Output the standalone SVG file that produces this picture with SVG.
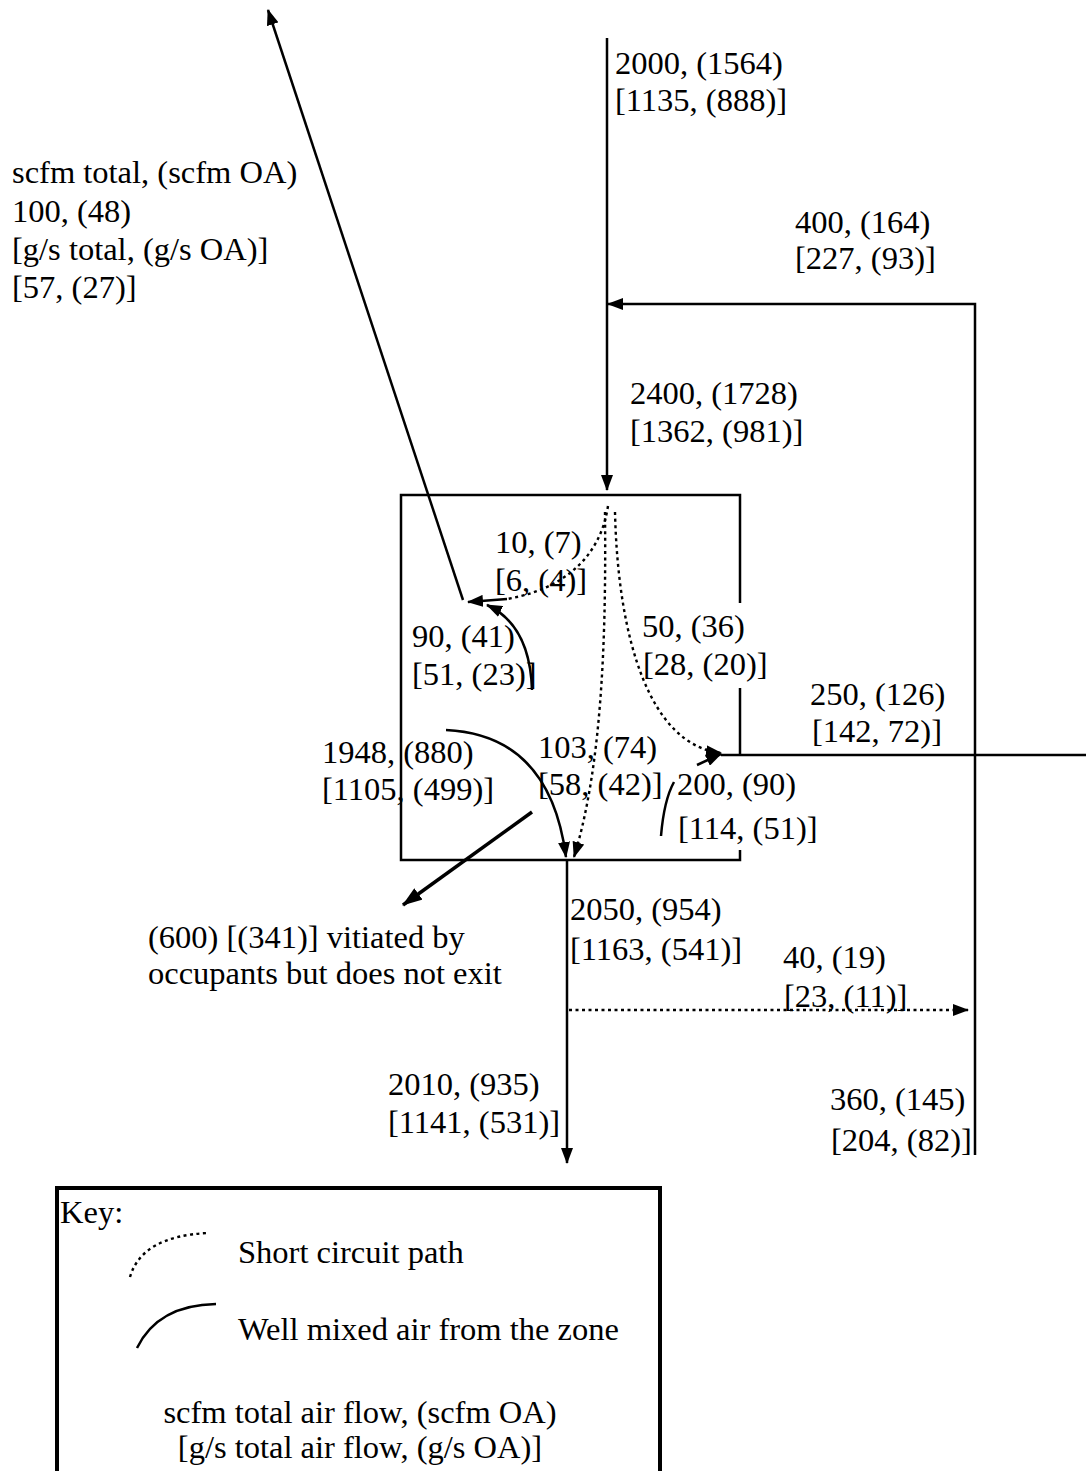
<svg xmlns="http://www.w3.org/2000/svg" width="1086" height="1471" viewBox="0 0 1086 1471">
<style>
text{font-family:"Liberation Serif","Times New Roman",serif;font-size:32.5px;fill:#000}
.ln{fill:none;stroke:#000;stroke-width:2.5}
.th{fill:none;stroke:#000;stroke-width:3.5}
.dt{fill:none;stroke:#000;stroke-width:2.4;stroke-dasharray:3 3.5}
.mid{text-anchor:middle}
</style>
<defs>
<marker id="ah" markerUnits="userSpaceOnUse" markerWidth="16" markerHeight="12" refX="15" refY="6" orient="auto">
<path d="M0,0 L16,6 L0,12 z" fill="#000"/>
</marker>
<marker id="ahb" markerUnits="userSpaceOnUse" markerWidth="20" markerHeight="14" refX="19" refY="7" orient="auto">
<path d="M0,0 L20,7 L0,14 z" fill="#000"/>
</marker>
</defs>
<rect width="1086" height="1471" fill="#fff"/>

<g id="zone">
<path class="ln" d="M740,603 L740,495 L401,495 L401,860 L740,860 L740,850"/>
<path class="ln" d="M740,688 L740,755"/>
</g>

<g id="connectors">
<path class="ln" d="M607,38 L607,490" marker-end="url(#ah)"/>
<path class="ln" d="M975,1155 L975,304 L608,304" marker-end="url(#ah)"/>
<path class="ln" d="M463,600 L268,10" marker-end="url(#ah)"/>
<path class="ln" d="M721,755 L1086,755"/>
<path class="ln" d="M567,860 L567,1163" marker-end="url(#ah)"/>
<path class="dt" d="M569,1010 L968,1010" marker-end="url(#ah)"/>
<path class="dt" d="M608,506 C600,560 560,590 507,599"/>
<path class="ln" d="M507,599 L468,602" marker-end="url(#ah)"/>
<path class="ln" d="M532,690 Q530,625 487,605" marker-end="url(#ah)"/>
<path class="dt" d="M615,512 C618,640 650,745 721,753" marker-end="url(#ah)"/>
<path class="dt" d="M605,512 C606,620 604,760 574,857" marker-end="url(#ah)"/>
<path class="ln" d="M446,730 Q550,735 566,857" marker-end="url(#ah)"/>
<path class="th" d="M532,812 L403,905" marker-end="url(#ahb)"/>
<path class="ln" d="M661,836 Q664,800 674,782"/>
<path class="ln" d="M697,765 L721,754" marker-end="url(#ah)"/>
</g>

<g id="labels">
<text x="615" y="74">2000, (1564)</text>
<text x="615" y="111">[1135, (888)]</text>
<text x="795" y="233">400, (164)</text>
<text x="795" y="269">[227, (93)]</text>
<text x="12" y="183">scfm total, (scfm OA)</text>
<text x="12" y="222">100, (48)</text>
<text x="12" y="260">[g/s total, (g/s OA)]</text>
<text x="12" y="298">[57, (27)]</text>
<text x="630" y="404">2400, (1728)</text>
<text x="630" y="442">[1362, (981)]</text>
<text x="495" y="553">10, (7)</text>
<text x="495" y="591">[6, (4)]</text>
<text x="412" y="647">90, (41)</text>
<text x="412" y="685">[51, (23)]</text>
<text x="642" y="637">50, (36)</text>
<text x="643" y="675">[28, (20)]</text>
<text x="810" y="705">250, (126)</text>
<text x="812" y="742">[142, 72)]</text>
<text x="322" y="763">1948, (880)</text>
<text x="322" y="800">[1105, (499)]</text>
<text x="538" y="758">103, (74)</text>
<text x="538" y="795">[58, (42)]</text>
<text x="677" y="795">200, (90)</text>
<text x="678" y="839">[114, (51)]</text>
<text x="570" y="920">2050, (954)</text>
<text x="570" y="960">[1163, (541)]</text>
<text x="783" y="968">40, (19)</text>
<text x="784" y="1007">[23, (11)]</text>
<text x="830" y="1110">360, (145)</text>
<text x="831" y="1151">[204, (82)]</text>
<text x="388" y="1095">2010, (935)</text>
<text x="388" y="1133">[1141, (531)]</text>
<text x="148" y="948">(600) [(341)] vitiated by</text>
<text x="148" y="984">occupants but does not exit</text>
</g>

<g id="key">
<rect x="57" y="1188" width="603" height="300" fill="none" stroke="#000" stroke-width="4"/>
<text x="60" y="1223">Key:</text>
<path class="dt" d="M130,1277 Q142,1236 208,1233"/>
<text x="238" y="1263">Short circuit path</text>
<path class="ln" d="M137,1348 Q158,1305 216,1304"/>
<text x="238" y="1340">Well mixed air from the zone</text>
<text class="mid" x="360" y="1423">scfm total air flow, (scfm OA)</text>
<text class="mid" x="360" y="1458">[g/s total air flow, (g/s OA)]</text>
</g>
</svg>
